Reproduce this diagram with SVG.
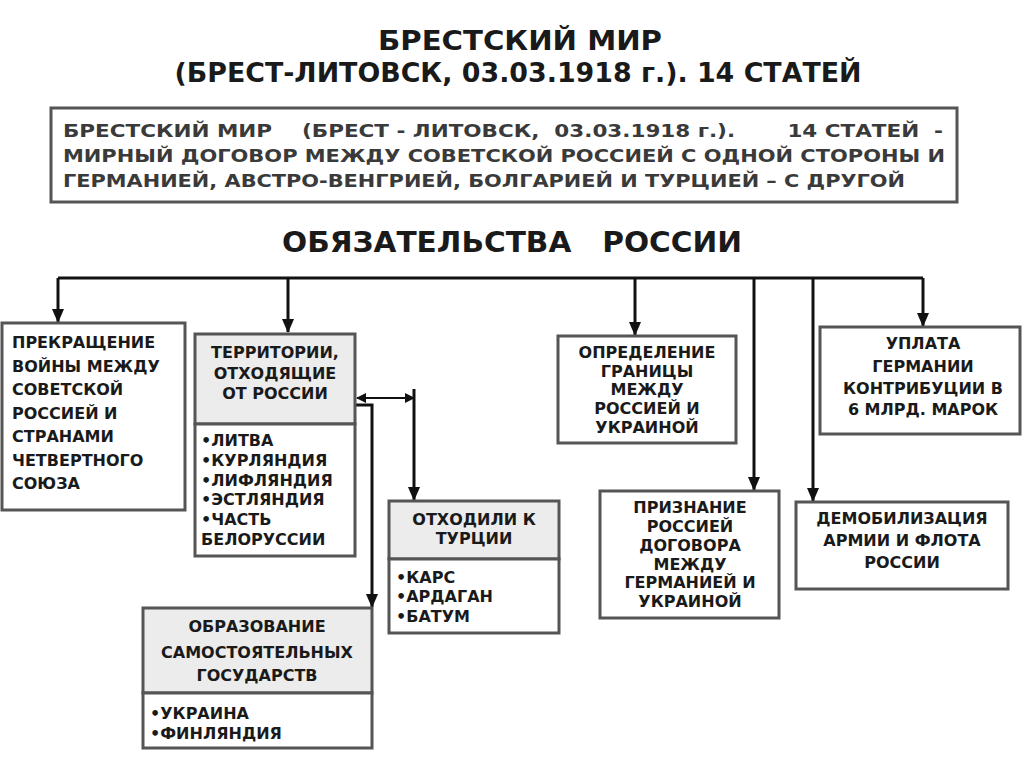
<svg xmlns="http://www.w3.org/2000/svg" width="1024" height="767" viewBox="0 0 1024 767">
<defs>
<marker id="ah" markerUnits="userSpaceOnUse" markerWidth="14" markerHeight="12" refX="13" refY="6" orient="auto-start-reverse">
<path d="M0,0 L14,6 L0,12 z" fill="#111"/>
</marker>
<marker id="ahs" markerUnits="userSpaceOnUse" markerWidth="10" markerHeight="10" refX="9" refY="5" orient="auto-start-reverse">
<path d="M0,0 L10,5 L0,10 z" fill="#111"/>
</marker>
<style>
.t{font-family:"DejaVu Sans",Verdana,sans-serif;font-weight:bold;fill:#1a1a1a}
.h{font-size:16px;text-anchor:middle}
.l{font-size:16px}
.box{fill:#fff;stroke:#555;stroke-width:3}
.hd{fill:#ececec;stroke:#555;stroke-width:3}
.c{fill:none;stroke:#111;stroke-width:3}
</style>
</defs>
<rect width="1024" height="767" fill="#fff"/>
<g id="title">
<text class="t" x="520" y="50" font-size="27" text-anchor="middle" textLength="284" lengthAdjust="spacingAndGlyphs">БРЕСТСКИЙ МИР</text>
<text class="t" x="518" y="82" font-size="27" text-anchor="middle" textLength="687" lengthAdjust="spacingAndGlyphs">(БРЕСТ-ЛИТОВСК, 03.03.1918 г.). 14 СТАТЕЙ</text>
</g>
<g id="info">
<rect x="51" y="108" width="906" height="94" fill="#fff" stroke="#555" stroke-width="3"/>
<text class="t" x="63" y="137" font-size="17" style="fill:#3a3a3a" xml:space="preserve" textLength="880" lengthAdjust="spacingAndGlyphs">БРЕСТСКИЙ МИР    (БРЕСТ - ЛИТОВСК,  03.03.1918 г.).       14 СТАТЕЙ  -</text>
<text class="t" x="63" y="162" font-size="17" style="fill:#3a3a3a" textLength="882" lengthAdjust="spacingAndGlyphs">МИРНЫЙ ДОГОВОР МЕЖДУ СОВЕТСКОЙ РОССИЕЙ С ОДНОЙ СТОРОНЫ И</text>
<text class="t" x="63" y="187" font-size="17" style="fill:#3a3a3a" textLength="842" lengthAdjust="spacingAndGlyphs">ГЕРМАНИЕЙ, АВСТРО-ВЕНГРИЕЙ, БОЛГАРИЕЙ И ТУРЦИЕЙ – С ДРУГОЙ</text>
</g>
<g id="heading">
<text class="t" x="282" y="252" font-size="29" xml:space="preserve" textLength="460" lengthAdjust="spacingAndGlyphs">ОБЯЗАТЕЛЬСТВА   РОССИИ</text>
</g>
<g id="connectors">
<path class="c" d="M58,278 H923"/>
<path class="c" d="M58,278 V322" marker-end="url(#ah)"/>
<path class="c" d="M288,278 V332" marker-end="url(#ah)"/>
<path class="c" d="M635,278 V335" marker-end="url(#ah)"/>
<path class="c" d="M754,278 V490" marker-end="url(#ah)"/>
<path class="c" d="M813,278 V501" marker-end="url(#ah)"/>
<path class="c" d="M923,278 V326" marker-end="url(#ah)"/>
<path fill="none" stroke="#111" stroke-width="2" d="M357,398 H414" marker-start="url(#ahs)" marker-end="url(#ahs)"/>
<path class="c" d="M414,389 V500" marker-end="url(#ah)"/>
<path class="c" d="M356,405 H372 V607" marker-end="url(#ah)"/>
</g>
<g id="node-war">
<rect class="box" x="2" y="323" width="183" height="187"/>
<text class="t l" x="12" y="348">ПРЕКРАЩЕНИЕ</text>
<text class="t l" x="12" y="372">ВОЙНЫ МЕЖДУ</text>
<text class="t l" x="12" y="395">СОВЕТСКОЙ</text>
<text class="t l" x="12" y="419">РОССИЕЙ И</text>
<text class="t l" x="12" y="442">СТРАНАМИ</text>
<text class="t l" x="12" y="466">ЧЕТВЕРТНОГО</text>
<text class="t l" x="12" y="489">СОЮЗА</text>
</g>
<g id="node-territories">
<rect class="hd" x="195" y="334" width="160" height="90"/>
<rect class="box" x="195" y="424" width="160" height="132"/>
<text class="t h" x="275" y="358">ТЕРРИТОРИИ,</text>
<text class="t h" x="275" y="379">ОТХОДЯЩИЕ</text>
<text class="t h" x="275" y="399">ОТ РОССИИ</text>
<text class="t l" x="201" y="446">•ЛИТВА</text>
<text class="t l" x="201" y="466">•КУРЛЯНДИЯ</text>
<text class="t l" x="201" y="486">•ЛИФЛЯНДИЯ</text>
<text class="t l" x="201" y="505">•ЭСТЛЯНДИЯ</text>
<text class="t l" x="201" y="525">•ЧАСТЬ</text>
<text class="t l" x="201" y="545">БЕЛОРУССИИ</text>
</g>
<g id="node-turkey">
<rect class="hd" x="389" y="501" width="170" height="58"/>
<rect class="box" x="389" y="559" width="170" height="74"/>
<text class="t h" x="474" y="525">ОТХОДИЛИ К</text>
<text class="t h" x="474" y="544">ТУРЦИИ</text>
<text class="t l" x="396" y="583">•КАРС</text>
<text class="t l" x="396" y="602">•АРДАГАН</text>
<text class="t l" x="396" y="622">•БАТУМ</text>
</g>
<g id="node-states">
<rect class="hd" x="143" y="608" width="229" height="85"/>
<rect class="box" x="143" y="693" width="229" height="55"/>
<text class="t h" x="257" y="632">ОБРАЗОВАНИЕ</text>
<text class="t h" x="257" y="658">САМОСТОЯТЕЛЬНЫХ</text>
<text class="t h" x="257" y="681">ГОСУДАРСТВ</text>
<text class="t l" x="150" y="719">•УКРАИНА</text>
<text class="t l" x="150" y="739">•ФИНЛЯНДИЯ</text>
</g>
<g id="node-border">
<rect class="box" x="558" y="336" width="178" height="107"/>
<text class="t h" x="647" y="358">ОПРЕДЕЛЕНИЕ</text>
<text class="t h" x="647" y="377">ГРАНИЦЫ</text>
<text class="t h" x="647" y="395">МЕЖДУ</text>
<text class="t h" x="647" y="414">РОССИЕЙ И</text>
<text class="t h" x="647" y="433">УКРАИНОЙ</text>
</g>
<g id="node-recognition">
<rect class="box" x="600" y="491" width="179" height="127"/>
<text class="t h" x="690" y="513">ПРИЗНАНИЕ</text>
<text class="t h" x="690" y="532">РОССИЕЙ</text>
<text class="t h" x="690" y="551">ДОГОВОРА</text>
<text class="t h" x="690" y="570">МЕЖДУ</text>
<text class="t h" x="690" y="588">ГЕРМАНИЕЙ И</text>
<text class="t h" x="690" y="607">УКРАИНОЙ</text>
</g>
<g id="node-demob">
<rect class="box" x="796" y="502" width="212" height="87"/>
<text class="t h" x="902" y="524">ДЕМОБИЛИЗАЦИЯ</text>
<text class="t h" x="902" y="546">АРМИИ И ФЛОТА</text>
<text class="t h" x="902" y="568">РОССИИ</text>
</g>
<g id="node-payment">
<rect class="box" x="820" y="327" width="200" height="107"/>
<text class="t h" x="923" y="349">УПЛАТА</text>
<text class="t h" x="923" y="372">ГЕРМАНИИ</text>
<text class="t h" x="923" y="394">КОНТРИБУЦИИ В</text>
<text class="t h" x="923" y="415">6 МЛРД. МАРОК</text>
</g>
</svg>
